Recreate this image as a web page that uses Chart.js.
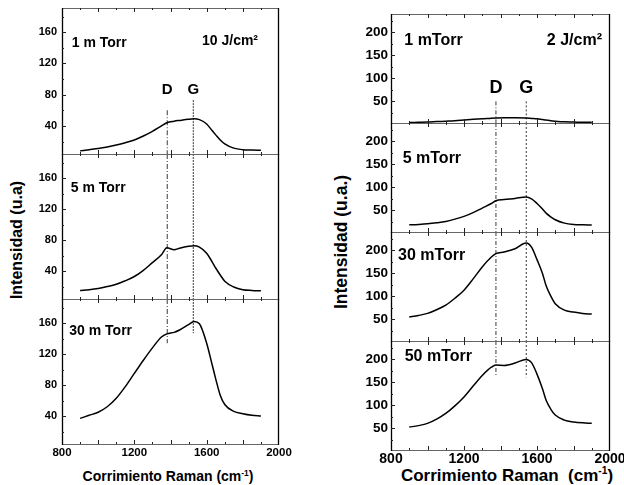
<!DOCTYPE html>
<html>
<head>
<meta charset="utf-8">
<script src="https://cdn.jsdelivr.net/npm/chart.js@4.4.0/dist/chart.umd.min.js"></script>
<style>
  body { margin: 0; background: #fff; width: 624px; height: 485px; position: relative; overflow: hidden;
         font-family: "Liberation Sans", Arial, sans-serif; font-weight: bold; color: #000; }
  canvas { position: absolute; }
  .tt { position: absolute; white-space: nowrap; transform: translate(-50%, -50%); line-height: 1; }
  .tt sup { font-size: 60%; }
  .rot { transform: translate(-50%, -50%) rotate(-90deg); }
</style>
</head>
<body>
<div class="tt rot" style="left:17px;top:240px;font-size:16px">Intensidad (u.a)</div>
<div class="tt" style="left:168px;top:476px;font-size:14px">Corrimiento Raman (cm<sup>-1</sup>)</div>
<div class="tt rot" style="left:342px;top:242px;font-size:17.5px">Intensidad (u.a.)</div>
<div class="tt" style="left:507px;top:475px;font-size:17px">Corrimiento Raman&nbsp; (cm<sup>-1</sup>)</div>
<script>
// panel izquierdo (10 J/cm2)
const ramanIzq = [900, 950, 1000, 1050, 1100, 1150, 1200, 1250, 1300, 1350, 1380, 1420, 1450, 1500, 1530, 1560, 1600, 1630, 1650, 1675, 1700, 1750, 1800, 1850, 1900];
const torr1  = [8, 9.5, 11, 13, 15.5, 18.5, 22, 27, 33, 40, 44, 46, 47, 48.5, 49, 48, 42.5, 34, 28.5, 22, 17, 11.5, 9.5, 9, 8.8];
const torr5  = [15, 16, 17.5, 20, 23, 27.5, 33, 41, 51, 61, 70, 67.5, 69.5, 72, 72.8, 71, 63, 52, 44, 35, 27, 19.5, 16, 15, 14.5];
const torr30 = [37, 41, 45, 52, 63, 78, 95, 112, 128, 142, 146, 148, 151, 158, 162, 159, 134, 106.5, 88, 67, 55, 46, 43, 41, 40];

// panel derecho (2 J/cm2)
const ramanDer = [900, 950, 1000, 1050, 1100, 1150, 1200, 1250, 1300, 1350, 1375, 1420, 1480, 1540, 1570, 1600, 1630, 1650, 1675, 1700, 1750, 1800, 1850, 1900];
const mtorr1  = [4, 4.5, 5, 6, 7, 8, 9.5, 11, 12, 13.5, 14, 14.5, 14.5, 14, 13, 12, 10.5, 9.5, 8, 7, 5.5, 5, 4.5, 4.5];
const mtorr5  = [18.6, 19.5, 20.8, 23, 26, 31, 37, 45, 55, 65, 71, 73.5, 76, 79, 75, 65, 53, 44, 36, 29.6, 22.3, 19.3, 18.5, 18];
const mtorr30 = [55, 58.5, 63, 71, 81, 96, 113.5, 138, 164, 185.5, 193, 196.4, 203.6, 216, 207, 180, 150, 123, 101, 84, 70, 66, 63, 61.5];
const mtorr50 = [52.8, 56, 60.8, 70, 82.5, 99, 118.4, 142, 165, 183, 187.7, 187, 192, 200, 193, 168, 136, 111, 92, 79, 68, 64, 62, 61];

const ticksX = [800, 1200, 1600, 2000];
const ticksYIzq = [40, 80, 120, 160];
const ticksYDer = [50, 100, 150, 200];

// posiciones de las bandas D y G (cm-1) y donde empiezan / terminan las lineas
const bandaIzq = { D: 1382, G: 1526, Dini: 60, Gini: 73, Dfin: 134, Gfin: 147 };
const bandaDer = { D: 1375, G: 1541, Dini: 50, Gini: 50, Dfin: 165, Gfin: 161 };

const marco = {
  id: 'marco',
  afterDatasetsDraw(chart) {
    const { ctx, chartArea: a, scales: { x, y } } = chart;
    const c = chart.options.plugins.marco;
    ctx.save();
    // separadores horizontales grises, lados en negro
    ctx.strokeStyle = '#666';
    ctx.lineWidth = 1;
    ctx.beginPath();
    ctx.moveTo(a.left, a.top + 0.5); ctx.lineTo(a.right, a.top + 0.5);
    ctx.moveTo(a.left, a.bottom + 0.5); ctx.lineTo(a.right, a.bottom + 0.5);
    ctx.stroke();
    ctx.strokeStyle = '#000';
    ctx.lineWidth = 1.3;
    ctx.beginPath();
    ctx.moveTo(a.left + 0.5, a.top); ctx.lineTo(a.left + 0.5, a.bottom + 1);
    ctx.moveTo(a.right - 0.5, a.top); ctx.lineTo(a.right - 0.5, a.bottom + 1);
    ctx.stroke();
    ctx.lineWidth = 1;
    ctx.strokeStyle = '#222';
    ctx.beginPath();
    for (let v = 900; v < 2000; v += 100) {
      const px = Math.round(x.getPixelForValue(v)) + 0.5;
      const l = v % 200 === 0 ? 4 : 2;
      ctx.moveTo(px, a.top); ctx.lineTo(px, a.top + l);
      ctx.moveTo(px, a.bottom); ctx.lineTo(px, a.bottom - l);
    }
    for (let v = c.paso / 2; v < y.max; v += c.paso / 2) {
      if (v <= y.min) continue;
      const py = Math.round(y.getPixelForValue(v)) + 0.5;
      const l = v % c.paso === 0 ? 4 : 2;
      ctx.moveTo(a.left, py); ctx.lineTo(a.left + l, py);
    }
    ctx.stroke();
    ctx.fillStyle = '#000';
    (c.textos || []).forEach(t => {
      ctx.font = 'bold ' + t.size + 'px "Liberation Sans", Arial, sans-serif';
      let px, py = a.top + t.dy;
      if (t.xv !== undefined) { px = x.getPixelForValue(t.xv); ctx.textAlign = 'center'; }
      else if (t.align === 'right') { px = a.left + t.dx; ctx.textAlign = 'right'; }
      else { px = a.left + t.dx; ctx.textAlign = 'left'; }
      ctx.textBaseline = 'alphabetic';
      ctx.fillText(t.t, px, py);
    });
    ctx.restore();
  }
};

function grafico(cfg) {
  const padTop = 16, padRight = 20, padBottom = 16;
  const cv = document.createElement('canvas');
  cv.width = cfg.axisW + cfg.w + padRight;
  cv.height = padTop + cfg.h + (cfg.abajo ? cfg.xAxisH : padBottom);
  cv.style.left = (cfg.left - cfg.axisW) + 'px';
  cv.style.top = (cfg.top - padTop) + 'px';
  document.body.appendChild(cv);

  const datasets = [{
    data: cfg.x.map((v, i) => ({ x: v, y: cfg.y[i] })),
    borderColor: '#000', borderWidth: 1.5, pointRadius: 0,
    cubicInterpolationMode: 'monotone'
  }];
  cfg.lineas.forEach(l => datasets.push({
    data: [{ x: l.x, y: l.y0 }, { x: l.x, y: l.y1 }],
    borderColor: '#222', borderWidth: 0.9, borderDash: l.dash, pointRadius: 0
  }));

  new Chart(cv, {
    type: 'line',
    data: { datasets },
    options: {
      responsive: false, animation: false, devicePixelRatio: 1,
      layout: { padding: { top: padTop, right: padRight, bottom: cfg.abajo ? 0 : padBottom, left: 0 } },
      plugins: { legend: { display: false }, tooltip: { enabled: false },
                 marco: { paso: cfg.paso, textos: cfg.textos } },
      scales: {
        x: {
          type: 'linear', min: 800, max: 2000, display: !!cfg.abajo,
          grid: { display: false, drawTicks: false }, border: { display: false },
          afterBuildTicks: s => { s.ticks = ticksX.map(v => ({ value: v })); },
          afterFit: s => { if (cfg.abajo) s.height = cfg.xAxisH; },
          ticks: { color: '#000', padding: cfg.xPad, maxRotation: 0, autoSkip: false, callback: v => String(v),
                   font: { family: '"Liberation Sans", Arial', weight: 'bold', size: cfg.xFont } }
        },
        y: {
          min: cfg.ymin, max: cfg.ymax,
          grid: { display: false, drawTicks: false }, border: { display: false },
          afterBuildTicks: s => { s.ticks = cfg.ticksY.map(v => ({ value: v })); },
          afterFit: s => { s.width = cfg.axisW; },
          ticks: { color: '#000', padding: cfg.yPad, callback: v => String(v),
                   font: { family: '"Liberation Sans", Arial', weight: 'bold', size: cfg.yFont } }
        }
      }
    },
    plugins: [marco]
  });
}

// ---- panel izquierdo
const izq = { left: 62, w: 217, axisW: 45, ymin: 4, ymax: 191, paso: 40, ticksY: ticksYIzq,
              x: ramanIzq, yFont: 11, yPad: 5, xFont: 11.5, xPad: 2, xAxisH: 24 };
const bI = bandaIzq;
grafico(Object.assign({}, izq, { top: 8, h: 146, y: torr1,
  lineas: [{ x: bI.D, y0: bI.Dini, y1: 4, dash: [5, 2, 1, 2] }, { x: bI.G, y0: bI.Gini, y1: 4, dash: [2, 1] }],
  textos: [{ t: '1 m Torr', dx: 9.7, dy: 38.7, size: 14 }, { t: '10 J/cm²', dx: 140, dy: 37, size: 14 },
           { t: 'D', xv: bI.D, dy: 86, size: 15 }, { t: 'G', xv: bI.G, dy: 86, size: 15 }] }));
grafico(Object.assign({}, izq, { top: 154, h: 145, y: torr5,
  lineas: [{ x: bI.D, y0: 191, y1: 4, dash: [5, 2, 1, 2] }, { x: bI.G, y0: 191, y1: 4, dash: [2, 1] }],
  textos: [{ t: '5 m Torr', dx: 8.7, dy: 37.7, size: 14 }] }));
grafico(Object.assign({}, izq, { top: 299, h: 145, y: torr30, abajo: true,
  lineas: [{ x: bI.D, y0: 191, y1: bI.Dfin, dash: [5, 2, 1, 2] }, { x: bI.G, y0: 191, y1: bI.Gfin, dash: [2, 1] }],
  textos: [{ t: '30 m Torr', dx: 7.3, dy: 36, size: 14 }] }));

// ---- panel derecho
const der = { left: 391, w: 219, axisW: 45, ymin: 3, ymax: 240, paso: 50, ticksY: ticksYDer,
              x: ramanDer, yFont: 13.5, yPad: 3, xFont: 14, xPad: 1, xAxisH: 26, h: 109 };
const bD = bandaDer;
grafico(Object.assign({}, der, { top: 14, y: mtorr1,
  lineas: [{ x: bD.D, y0: bD.Dini, y1: 3, dash: [4, 2, 1, 2] }, { x: bD.G, y0: bD.Gini, y1: 3, dash: [2, 2] }],
  textos: [{ t: '1 mTorr', dx: 13.3, dy: 31, size: 16 }, { t: '2 J/cm²', dx: 211, dy: 31, size: 16, align: 'right' },
           { t: 'D', xv: bD.D, dy: 79.3, size: 18 }, { t: 'G', xv: bD.G, dy: 79.3, size: 18 }] }));
grafico(Object.assign({}, der, { top: 123, y: mtorr5,
  lineas: [{ x: bD.D, y0: 240, y1: 3, dash: [4, 2, 1, 2] }, { x: bD.G, y0: 240, y1: 3, dash: [2, 2] }],
  textos: [{ t: '5 mTorr', dx: 11.7, dy: 39.7, size: 16 }] }));
grafico(Object.assign({}, der, { top: 232, y: mtorr30,
  lineas: [{ x: bD.D, y0: 240, y1: 3, dash: [4, 2, 1, 2] }, { x: bD.G, y0: 240, y1: 3, dash: [2, 2] }],
  textos: [{ t: '30 mTorr', dx: 7, dy: 28, size: 16 }] }));
grafico(Object.assign({}, der, { top: 341, y: mtorr50, abajo: true,
  lineas: [{ x: bD.D, y0: 240, y1: bD.Dfin, dash: [4, 2, 1, 2] }, { x: bD.G, y0: 240, y1: bD.Gfin, dash: [2, 2] }],
  textos: [{ t: '50 mTorr', dx: 13.7, dy: 19.7, size: 16 }] }));
</script>
</body>
</html>
